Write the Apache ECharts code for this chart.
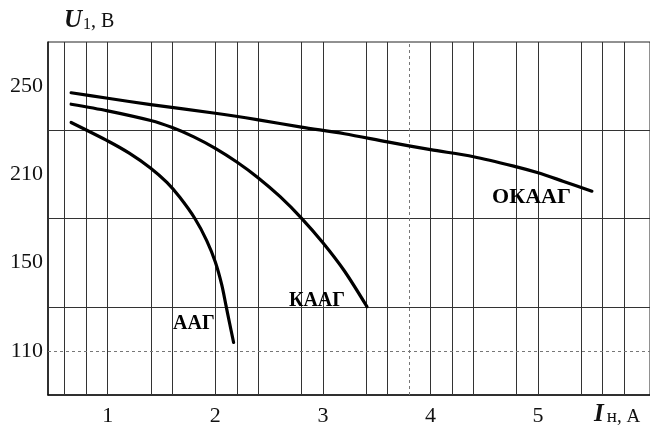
<!DOCTYPE html>
<html>
<head>
<meta charset="utf-8">
<script src="https://cdn.jsdelivr.net/npm/echarts@6/dist/echarts.min.js"></script>
<style>
html,body{margin:0;padding:0;background:#fff;}
#c{width:650px;height:427px;}
</style>
</head>
<body>
<div id="c"></div>
<script>
// ---- data (I in A, U in V) ----
const xTicks = [1, 2, 3, 4, 5];
const yTickLabels = ['110', '150', '210', '250'];
const yTickVolts = [110, 150, 210, 250];
const yTickLevels = [1, 3, 5, 7]; // evenly spaced positions of the printed labels

const okaagI = [0.66, 1.0, 1.4, 2.0, 2.4, 2.8, 3.2, 3.6, 4.0, 4.4, 4.8, 5.0, 5.23, 5.5];
const okaagU = [247, 244.5, 241.6, 237.7, 234.7, 231.4, 228.4, 224.7, 221.2, 218.0, 213.4, 210.7, 205.4, 198.6];

const kaagI = [0.66, 1.0, 1.4, 1.6, 1.8, 2.0, 2.2, 2.4, 2.6, 2.8, 3.0, 3.2, 3.41];
const kaagU = [241.8, 238.8, 234.4, 231.2, 227.0, 221.8, 215.6, 207.6, 195.0, 180.3, 163.5, 146.2, 130.0];

const aagI = [0.66, 1.01, 1.2, 1.4, 1.55, 1.67, 1.81, 1.92, 2.0, 2.06, 2.1, 2.13, 2.17];
const aagU = [233.5, 224.9, 219.6, 212.8, 204.5, 194.4, 180.0, 165.0, 150.4, 139.9, 130.4, 123.2, 113.8];

const seriesNames = ['ОКААГ', 'КААГ', 'ААГ'];

// grid lines as printed on the chart
const vGridI = [0.6, 0.8, 1.0, 1.4, 1.6, 2.0, 2.2, 2.4, 2.8, 3.0, 3.4, 3.6, 4.0, 4.2, 4.4, 4.8, 5.0, 5.4, 5.6, 5.8];
const vGridFaintI = [3.8];
const hGridU = [130, 180, 230];
const hGridDashedU = [110];

// map volts onto the (non-uniform) printed scale positions
function toLevel(v) {
  const V = yTickVolts, L = yTickLevels;
  let i = 0;
  if (v <= V[0]) i = 0;
  else if (v >= V[V.length - 1]) i = V.length - 2;
  else { while (v > V[i + 1]) i++; }
  return L[i] + (v - V[i]) * (L[i + 1] - L[i]) / (V[i + 1] - V[i]);
}
function pairs(xs, ys) { return xs.map((x, k) => [x, toLevel(ys[k])]); }

const serif = 'Liberation Serif, Times New Roman, serif';
const chart = echarts.init(document.getElementById('c'), null, {renderer: 'canvas'});

const vLines = vGridI.map(x => ({xAxis: x}));
const vLinesFaint = vGridFaintI.map(x => ({xAxis: x}));
const hLines = hGridU.map(v => ({yAxis: toLevel(v)}));
const hLinesDashed = hGridDashedU.map(v => ({yAxis: toLevel(v)}));

function curve(name, xs, ys, off, fs, fw) {
  return {
    name: name, type: 'line', data: pairs(xs, ys), showSymbol: false, smooth: 0.3,
    lineStyle: {color: '#000', width: 3.2, cap: 'round', join: 'round'}, z: 5,
    endLabel: {show: true, formatter: name, align: 'right', verticalAlign: 'middle', offset: off,
      fontFamily: serif, fontSize: fs, fontWeight: fw, color: '#000', distance: 0}
  };
}

const option = {
  animation: false,
  grid: {left: 48, right: -1, top: 42, bottom: 30, show: true, borderColor: '#222', borderWidth: 1},
  xAxis: {
    type: 'value', min: 0.445, max: 6.04,
    axisLine: {show: true, lineStyle: {color: '#111', width: 1.5}},
    axisTick: {show: false},
    splitLine: {show: false},
    axisLabel: {customValues: xTicks, fontFamily: serif, fontSize: 22, color: '#111', margin: 10}
  },
  yAxis: {
    type: 'value', min: 0, max: 8, interval: 1,
    axisLine: {show: true, lineStyle: {color: '#111', width: 1.5}},
    axisTick: {show: false},
    splitLine: {show: false},
    axisLabel: {
      fontFamily: serif, fontSize: 22, color: '#111', margin: 5,
      formatter: function (val) { const i = yTickLevels.indexOf(val); return i >= 0 ? yTickLabels[i] : ''; }
    }
  },
  series: [
    {
      type: 'line', data: [], silent: true,
      markLine: {silent: true, symbol: 'none', label: {show: false}, animation: false,
        lineStyle: {color: '#333', width: 1, type: 'solid'},
        data: vLines.concat(hLines)}
    },
    {
      type: 'line', data: [], silent: true,
      markLine: {silent: true, symbol: 'none', label: {show: false}, animation: false,
        lineStyle: {color: '#777', width: 1, type: [3, 3]},
        data: vLinesFaint.concat(hLinesDashed)}
    },
    curve(seriesNames[0], okaagI, okaagU, [-21, 6], 22, 'bold'),
    curve(seriesNames[1], kaagI, kaagU, [-22, -6], 20, 'bold'),
    curve(seriesNames[2], aagI, aagU, [-19, -19], 20, 'bold')
  ],
  graphic: [
    {type: 'text', left: 64, top: 8, style: {
      text: '{u|U}{s|1}{n|, В}',
      rich: {
        u: {fontFamily: serif, fontSize: 25, fontStyle: 'italic', fontWeight: 'bold', fill: '#111'},
        s: {fontFamily: serif, fontSize: 16, fill: '#111', padding: [8, 0, 0, 1]},
        n: {fontFamily: serif, fontSize: 20, fill: '#111', padding: [3, 0, 0, 0]}
      }}},
    {type: 'text', left: 594, top: 402, style: {
      text: '{u|I}{s|н, А}',
      rich: {
        u: {fontFamily: serif, fontSize: 25, fontStyle: 'italic', fontWeight: 'bold', fill: '#111'},
        s: {fontFamily: serif, fontSize: 19, fill: '#111', padding: [5, 0, 0, 3]}
      }}}
  ]
};
chart.setOption(option);
</script>
</body>
</html>
